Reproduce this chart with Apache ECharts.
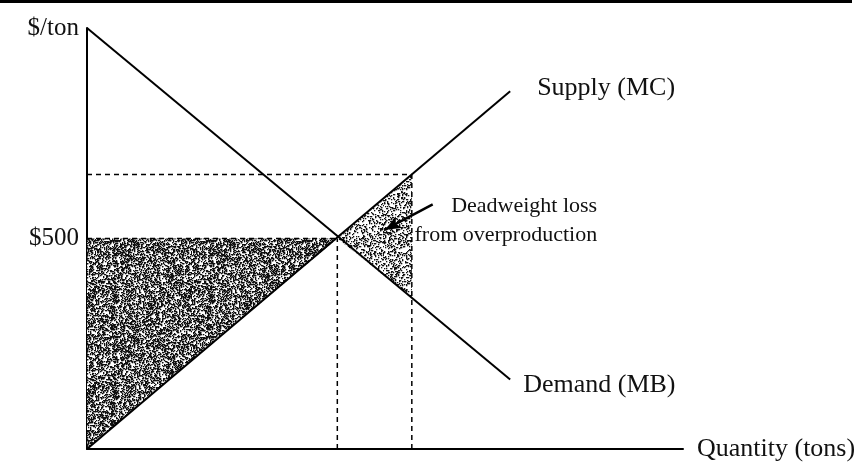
<!DOCTYPE html>
<html>
<head>
<meta charset="utf-8">
<script src="https://cdn.jsdelivr.net/npm/echarts@6/dist/echarts.min.js"></script>
<style>
  html, body { margin: 0; padding: 0; background: #fff; }
  #main { width: 861px; height: 462px; }
</style>
</head>
<body>
<div id="main"></div>
<script>
// curves (quantity, $/ton)
var demandLine = [[0, 1000], [71, 165]];
var supplyLine = [[0, 0], [71, 850]];
// shaded areas
var surplusTri = [[0, 0], [0, 500], [42, 500]];
var dwlTri = [[42, 500], [54.5, 652], [54.5, 359]];
// dashed guides
var dashSegs = [
  [[0, 500], [42, 500]],
  [[0, 652], [54.5, 652]],
  [[42, 0], [42, 500]],
  [[54.5, 0], [54.5, 652]]
];
var arrowSeg = [[58, 581], [50, 521]];
var dwlTextAt = [85.6, 543];
var yTickLabels = { 500: '$500', 1000: '$/ton' };

var FONT = 'Liberation Serif';

// stippled texture like the print
function stipple(density, seed) {
  var c = document.createElement('canvas');
  c.width = c.height = 96;
  var g = c.getContext('2d');
  var s = seed;
  g.fillStyle = '#fff';
  g.fillRect(0, 0, 96, 96);
  g.fillStyle = '#111';
  var n = Math.round(96 * 96 * density / 1.6);
  for (var i = 0; i < n; i++) {
    s = (s * 16807) % 2147483647;
    var x = s % 96;
    s = (s * 16807) % 2147483647;
    var y = s % 96;
    g.fillRect(x, y, 1.3, 1.3);
  }
  return c;
}
var darkFill = { image: stipple(0.85, 12345), repeat: 'repeat' };
var lightFill = { image: stipple(0.45, 777), repeat: 'repeat' };

function triSeries(tri, fill) {
  return {
    type: 'custom',
    silent: true,
    z: 1,
    data: [0],
    renderItem: function (params, api) {
      return {
        type: 'polygon',
        shape: { points: tri.map(function (p) { return api.coord(p); }) },
        style: { fill: fill }
      };
    }
  };
}

var series = [
  triSeries(surplusTri, darkFill),
  triSeries(dwlTri, lightFill)
];

dashSegs.forEach(function (seg) {
  series.push({
    type: 'line',
    data: seg,
    symbol: 'none',
    silent: true,
    z: 2,
    lineStyle: { color: '#000', width: 1.5, type: [5, 4] }
  });
});

series.push({
  name: 'Demand',
  type: 'line',
  data: demandLine,
  symbol: 'none',
  z: 3,
  lineStyle: { color: '#000', width: 2 },
  endLabel: {
    show: true, formatter: 'Demand (MB)', distance: 13, offset: [0, 6],
    color: '#111', fontFamily: FONT, fontSize: 26
  },
  markLine: {
    silent: true,
    symbol: ['none', 'arrow'],
    symbolSize: [10, 16],
    label: { show: false },
    lineStyle: { color: '#000', width: 2.5, type: 'solid' },
    data: [[{ coord: arrowSeg[0] }, { coord: arrowSeg[1] }]]
  }
});

series.push({
  name: 'Supply',
  type: 'line',
  data: supplyLine,
  symbol: 'none',
  z: 3,
  lineStyle: { color: '#000', width: 2 },
  endLabel: {
    show: true, formatter: 'Supply (MC)', distance: 27, offset: [0, -3],
    color: '#111', fontFamily: FONT, fontSize: 26
  }
});

series.push({
  type: 'scatter',
  data: [dwlTextAt],
  symbolSize: 0,
  silent: true,
  itemStyle: { opacity: 1 },
  label: {
    show: true,
    position: 'left',
    distance: 0,
    opacity: 1,
    formatter: 'Deadweight loss\nfrom overproduction',
    color: '#111', fontFamily: FONT, fontSize: 22, lineHeight: 29
  }
});

var myChart = echarts.init(document.getElementById('main'));
myChart.setOption({
  animation: false,
  backgroundColor: '#fff',
  grid: { left: 87, right: 178, top: 28, bottom: 12 },
  graphic: [{
    type: 'rect',
    left: 0, top: 0,
    shape: { width: 852, height: 3 },
    style: { fill: '#000' }
  }],
  xAxis: {
    type: 'value',
    min: 0, max: 100,
    name: 'Quantity (tons)',
    nameLocation: 'end',
    nameGap: 14,
    nameTextStyle: { color: '#111', fontFamily: FONT, fontSize: 26, padding: [0, 0, 4, 0] },
    axisLine: { show: true, lineStyle: { color: '#000', width: 2 } },
    axisTick: { show: false },
    axisLabel: { show: false },
    splitLine: { show: false }
  },
  yAxis: {
    type: 'value',
    min: 0, max: 1000, interval: 500,
    axisLine: { show: true, lineStyle: { color: '#000', width: 2 } },
    axisTick: { show: false },
    axisLabel: {
      margin: 8,
      color: '#111', fontFamily: FONT, fontSize: 25,
      formatter: function (v) { return yTickLabels[v] || ''; }
    },
    splitLine: { show: false }
  },
  series: series
});
</script>
</body>
</html>
